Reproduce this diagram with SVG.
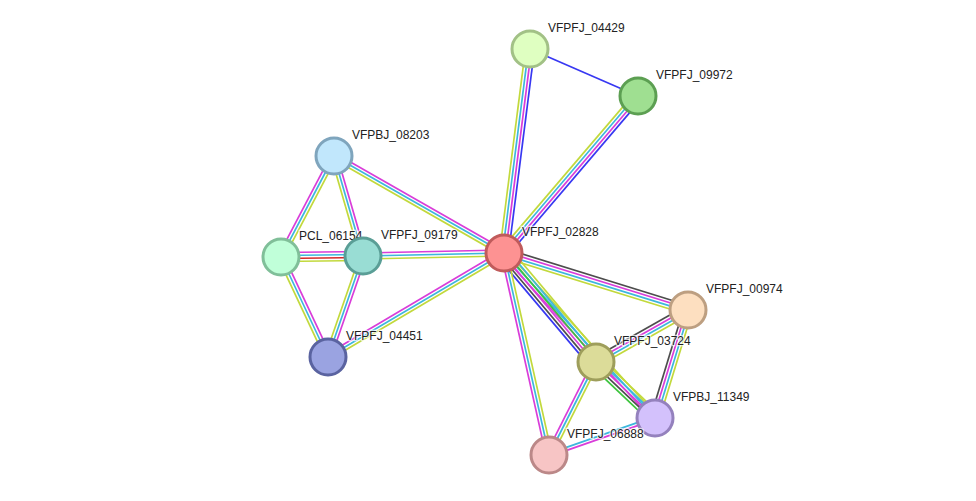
<svg xmlns="http://www.w3.org/2000/svg" width="976" height="501" viewBox="0 0 976 501">
<style>
line{stroke-width:1.7;fill:none}
.yg{stroke:#c2d93c}.cy{stroke:#3db7dd}.mg{stroke:#d93dd9}.bl{stroke:#3838f2}.bk{stroke:#4d4d4d}.gr{stroke:#3cc43c}.rd{stroke:#d42a2a}
circle{stroke-width:3}
text{font-family:"Liberation Sans",Arial,sans-serif;font-size:12px;fill:#222;stroke:#fff;stroke-width:2.5px;stroke-opacity:0.7;paint-order:stroke}
</style>
<rect width="976" height="501" fill="#fff"/>
<g id="edges">
<g transform="translate(530,49) rotate(97.26)"><line class="yg" x1="0" y1="4.5" x2="205.65" y2="4.5"/><line class="cy" x1="0" y1="1.5" x2="205.65" y2="1.5"/><line class="mg" x1="0" y1="-1.5" x2="205.65" y2="-1.5"/><line class="bl" x1="0" y1="-4.5" x2="205.65" y2="-4.5"/></g>
<g transform="translate(530,49) rotate(23.52)"><line class="bl" x1="0" y1="0" x2="117.78" y2="0"/></g>
<g transform="translate(638,96) rotate(130.48)"><line class="yg" x1="0" y1="4.5" x2="206.41" y2="4.5"/><line class="cy" x1="0" y1="1.5" x2="206.41" y2="1.5"/><line class="mg" x1="0" y1="-1.5" x2="206.41" y2="-1.5"/><line class="bl" x1="0" y1="-4.5" x2="206.41" y2="-4.5"/></g>
<g transform="translate(334,156) rotate(29.71)"><line class="yg" x1="0" y1="3" x2="195.73" y2="3"/><line class="cy" x1="0" y1="0" x2="195.73" y2="0"/><line class="mg" x1="0" y1="-3" x2="195.73" y2="-3"/></g>
<g transform="translate(334,156) rotate(117.69)"><line class="mg" x1="0" y1="3" x2="114.06" y2="3"/><line class="cy" x1="0" y1="0" x2="114.06" y2="0"/><line class="yg" x1="0" y1="-3" x2="114.06" y2="-3"/></g>
<g transform="translate(334,156) rotate(73.83)"><line class="yg" x1="0" y1="3" x2="104.12" y2="3"/><line class="cy" x1="0" y1="0" x2="104.12" y2="0"/><line class="mg" x1="0" y1="-3" x2="104.12" y2="-3"/></g>
<g transform="translate(281,257) rotate(-0.7)"><line class="mg" x1="0" y1="-4.5" x2="82.01" y2="-4.5"/><line class="cy" x1="0" y1="-1.5" x2="82.01" y2="-1.5"/><line class="rd" x1="0" y1="1.5" x2="82.01" y2="1.5"/><line class="yg" x1="0" y1="4.5" x2="82.01" y2="4.5"/></g>
<g transform="translate(363,256) rotate(-1.22)"><line class="mg" x1="0" y1="-3" x2="141.03" y2="-3"/><line class="cy" x1="0" y1="0" x2="141.03" y2="0"/><line class="yg" x1="0" y1="3" x2="141.03" y2="3"/></g>
<g transform="translate(281,257) rotate(64.83)"><line class="yg" x1="0" y1="3" x2="110.49" y2="3"/><line class="cy" x1="0" y1="0" x2="110.49" y2="0"/><line class="mg" x1="0" y1="-3" x2="110.49" y2="-3"/></g>
<g transform="translate(363,256) rotate(109.11)"><line class="yg" x1="0" y1="3" x2="106.89" y2="3"/><line class="cy" x1="0" y1="0" x2="106.89" y2="0"/><line class="mg" x1="0" y1="-3" x2="106.89" y2="-3"/></g>
<g transform="translate(328,357) rotate(-30.58)"><line class="yg" x1="0" y1="3" x2="204.43" y2="3"/><line class="cy" x1="0" y1="0" x2="204.43" y2="0"/><line class="mg" x1="0" y1="-3" x2="204.43" y2="-3"/></g>
<g transform="translate(504,253) rotate(17.21)"><line class="bk" x1="0" y1="-4.5" x2="192.63" y2="-4.5"/><line class="mg" x1="0" y1="-1.5" x2="192.63" y2="-1.5"/><line class="cy" x1="0" y1="1.5" x2="192.63" y2="1.5"/><line class="yg" x1="0" y1="4.5" x2="192.63" y2="4.5"/></g>
<g transform="translate(504,253) rotate(47.54)"><line class="mg" x1="0" y1="3" x2="223.66" y2="3"/><line class="cy" x1="0" y1="0" x2="223.66" y2="0"/><line class="yg" x1="0" y1="-3" x2="223.66" y2="-3"/></g>
<g transform="translate(504,253) rotate(49.84)"><line class="bl" x1="0" y1="7.5" x2="142.64" y2="7.5"/><line class="bk" x1="0" y1="4.5" x2="142.64" y2="4.5"/><line class="mg" x1="0" y1="1.5" x2="142.64" y2="1.5"/><line class="gr" x1="0" y1="-1.5" x2="142.64" y2="-1.5"/><line class="cy" x1="0" y1="-4.5" x2="142.64" y2="-4.5"/><line class="yg" x1="0" y1="-7.5" x2="142.64" y2="-7.5"/></g>
<g transform="translate(504,253) rotate(77.44)"><line class="mg" x1="0" y1="3" x2="206.95" y2="3"/><line class="cy" x1="0" y1="0" x2="206.95" y2="0"/><line class="yg" x1="0" y1="-3" x2="206.95" y2="-3"/></g>
<g transform="translate(596,362) rotate(-29.48)"><line class="bk" x1="0" y1="-4.5" x2="105.68" y2="-4.5"/><line class="mg" x1="0" y1="-1.5" x2="105.68" y2="-1.5"/><line class="cy" x1="0" y1="1.5" x2="105.68" y2="1.5"/><line class="yg" x1="0" y1="4.5" x2="105.68" y2="4.5"/></g>
<g transform="translate(596,362) rotate(43.51)"><line class="gr" x1="0" y1="6" x2="81.35" y2="6"/><line class="bk" x1="0" y1="3" x2="81.35" y2="3"/><line class="mg" x1="0" y1="0" x2="81.35" y2="0"/><line class="cy" x1="0" y1="-3" x2="81.35" y2="-3"/><line class="yg" x1="0" y1="-6" x2="81.35" y2="-6"/></g>
<g transform="translate(596,362) rotate(116.81)"><line class="mg" x1="0" y1="3" x2="104.2" y2="3"/><line class="cy" x1="0" y1="0" x2="104.2" y2="0"/><line class="yg" x1="0" y1="-3" x2="104.2" y2="-3"/></g>
<g transform="translate(688,310) rotate(106.99)"><line class="bk" x1="0" y1="4.5" x2="112.93" y2="4.5"/><line class="mg" x1="0" y1="1.5" x2="112.93" y2="1.5"/><line class="cy" x1="0" y1="-1.5" x2="112.93" y2="-1.5"/><line class="yg" x1="0" y1="-4.5" x2="112.93" y2="-4.5"/></g>
<g transform="translate(549,455) rotate(-19.24)"><line class="cy" x1="0" y1="-1.5" x2="112.27" y2="-1.5"/><line class="mg" x1="0" y1="1.5" x2="112.27" y2="1.5"/></g>
</g>
<g id="n_VFPFJ_04429"><circle cx="530" cy="49" r="18" fill="#dfffc1" stroke="#a2c186"/><text x="548" y="32">VFPFJ_04429</text></g>
<g id="n_VFPFJ_09972"><circle cx="638" cy="96" r="18" fill="#9fdf91" stroke="#5c9f52"/><text x="656" y="79">VFPFJ_09972</text></g>
<g id="n_VFPBJ_08203"><circle cx="334" cy="156" r="18" fill="#c1e7fc" stroke="#7fa5bd"/><text x="352" y="139">VFPBJ_08203</text></g>
<g id="n_PCL_06154"><circle cx="281" cy="257" r="18" fill="#c0ffd9" stroke="#80bf99"/><text x="299" y="240">PCL_06154</text></g>
<g id="n_VFPFJ_09179"><circle cx="363" cy="256" r="18" fill="#99ddd4" stroke="#5a9e96"/><text x="381" y="239">VFPFJ_09179</text></g>
<g id="n_VFPFJ_02828"><circle cx="504" cy="253" r="18" fill="#fd9292" stroke="#c05b5b"/><text x="522" y="236">VFPFJ_02828</text></g>
<g id="n_VFPFJ_00974"><circle cx="688" cy="310" r="18" fill="#fddfc0" stroke="#bd9f81"/><text x="706" y="293">VFPFJ_00974</text></g>
<g id="n_VFPFJ_03724"><circle cx="596" cy="362" r="18" fill="#dcdc99" stroke="#9e9e5b"/><text x="614" y="345">VFPFJ_03724</text></g>
<g id="n_VFPBJ_11349"><circle cx="655" cy="418" r="18" fill="#d3c1fc" stroke="#9481bd"/><text x="673" y="401">VFPBJ_11349</text></g>
<g id="n_VFPFJ_06888"><circle cx="549" cy="455" r="18" fill="#f7c5c5" stroke="#bb8888"/><text x="567" y="438">VFPFJ_06888</text></g>
<g id="n_VFPFJ_04451"><circle cx="328" cy="357" r="18" fill="#9aa3e1" stroke="#5a63a0"/><text x="346" y="340">VFPFJ_04451</text></g>
</svg>
